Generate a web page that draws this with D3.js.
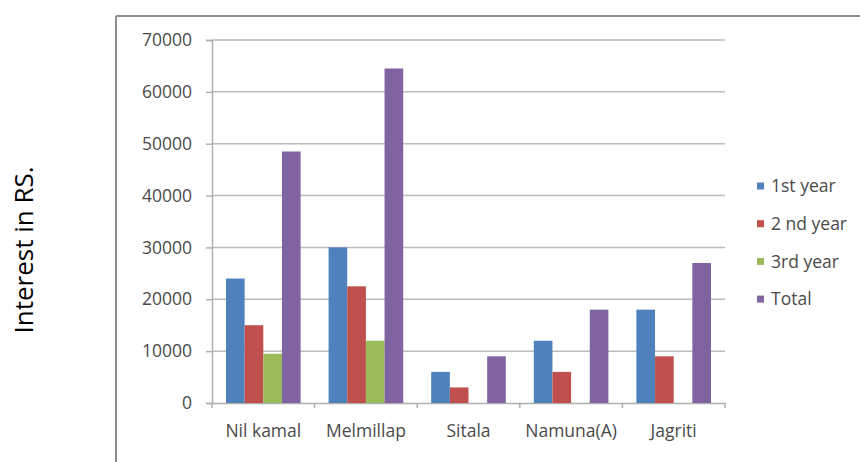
<!DOCTYPE html>
<html><head><meta charset="utf-8">
<script src="https://cdn.jsdelivr.net/npm/d3@7"></script>
<style>body{margin:0;background:#fff}svg{display:block}text{font-family:"Open Sans",sans-serif}</style>
</head><body><svg id="c" width="860" height="462"></svg>
<script>
const categories = ["Nil kamal","Melmillap","Sitala","Namuna(A)","Jagriti"];
const seriesNames = ["1st year","2 nd year","3rd year","Total"];
const year1 = [24000,30000,6000,12000,18000];
const year2 = [15000,22500,3000,6000,9000];
const year3 = [9500,12000,0,0,0];
const total = [48500,64500,9000,18000,27000];
const yTicks = [0,10000,20000,30000,40000,50000,60000,70000];
const colors = ["#4F81BD","#C0504D","#9BBB59","#8064A2"];
const seriesValues = [year1,year2,year3,total];

const svg = d3.select("#c");
// outer frame
svg.append("line").attr("x1",116).attr("x2",860).attr("y1",16).attr("y2",16).attr("stroke","#8c8c8c").attr("stroke-width",2);
svg.append("line").attr("x1",116).attr("x2",116).attr("y1",16).attr("y2",462).attr("stroke","#8c8c8c").attr("stroke-width",2);

const L=212,R=725,T=40,B=403;
const x0 = d3.scaleBand().domain(categories).range([L,R]).paddingInner(0).paddingOuter(0);
const bw = x0.bandwidth()/5.5;
const x1 = d3.scaleBand().domain(seriesNames).range([0.75*bw, 0.75*bw+4*bw]).padding(0);
const y = d3.scaleLinear().domain([0,70000]).range([B,T]);

// gridlines
svg.append("g").selectAll("line").data(yTicks.slice(1)).join("line")
  .attr("x1",L).attr("x2",R).attr("y1",d=>y(d)).attr("y2",d=>y(d))
  .attr("stroke","#bcbcbc").attr("stroke-width",1.5);

// y axis
const ya = svg.append("g").attr("transform",`translate(${L},0)`)
  .call(d3.axisLeft(y).tickValues(yTicks).tickSize(6).tickPadding(14).tickFormat(d3.format("d")));
ya.select(".domain").attr("stroke","#b0b0b0").attr("stroke-width",1.5);
ya.selectAll(".tick line").attr("stroke","#b0b0b0").attr("stroke-width",1.5);
ya.selectAll("text").attr("font-size",17.5).attr("fill","#4a4a4a").attr("font-family","'Open Sans',sans-serif");

// x axis
const xa = svg.append("g").attr("transform",`translate(0,${B})`)
  .call(d3.axisBottom(x0).tickSize(0).tickPadding(22));
xa.select(".domain").attr("stroke","#b0b0b0").attr("stroke-width",1.5);
xa.selectAll("text").attr("font-size",17.5).attr("fill","#4a4a4a").attr("font-family","'Open Sans',sans-serif");
svg.append("g").selectAll("line").data(d3.range(categories.length+1)).join("line")
  .attr("x1",i=>L+i*x0.bandwidth()).attr("x2",i=>L+i*x0.bandwidth())
  .attr("y1",B).attr("y2",B+5).attr("stroke","#b0b0b0").attr("stroke-width",1.5);

// bars
const g = svg.append("g");
seriesValues.forEach((vals,si)=>{
  g.append("g").attr("fill",colors[si]).selectAll("rect").data(vals).join("rect")
    .attr("x",(d,i)=>x0(categories[i])+x1(seriesNames[si]))
    .attr("width",x1.bandwidth())
    .attr("y",d=>y(d)).attr("height",d=>B-y(d));
});

// legend
const lg = svg.append("g").attr("transform","translate(757,186)");
seriesNames.forEach((n,i)=>{
  const it = lg.append("g").attr("transform",`translate(0,${i*37.7})`);
  it.append("rect").attr("x",0).attr("y",-3.5).attr("width",7).attr("height",7).attr("fill",colors[i]);
  it.append("text").attr("x",14).attr("y",0).attr("dy","0.35em").attr("font-size",17.5).attr("fill","#4a4a4a").text(n);
});

// y title
svg.append("text").attr("transform","translate(24,250) rotate(-90)")
  .attr("text-anchor","middle").attr("dy","0.35em").attr("font-size",26).attr("fill","#000")
  .attr("font-family","'Open Sans',sans-serif").text("Interest in RS.");
</script></body></html>
